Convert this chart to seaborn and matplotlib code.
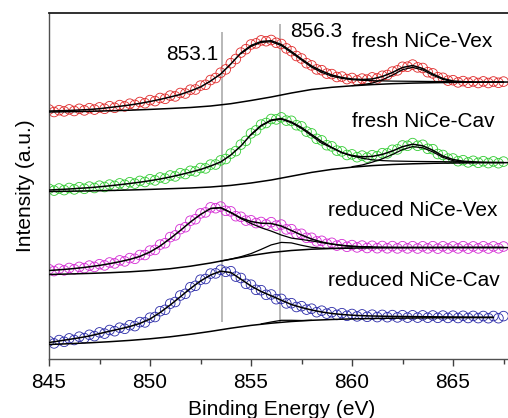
import numpy as np
import pandas as pd
import matplotlib
matplotlib.use("Agg")
import matplotlib.pyplot as plt
import seaborn as sns

# ---------------- data ----------------
E_data = np.arange(845.0, 867.51, 0.25)   # measured energy grid (0.25 eV step)
E_fit = np.arange(845.0, 867.51, 0.5)     # fit grid
E_base = np.arange(845.0, 868.01, 1.0)    # baseline grid

series_names = ["fresh NiCe-Vex", "fresh NiCe-Cav", "reduced NiCe-Vex", "reduced NiCe-Cav"]
series_colors = ["#e02a2a", "#33cc33", "#d42ad4", "#2a2aa8"]

# fresh NiCe-Vex
vex_f_data = [249.5, 247.0, 248.8, 247.6, 249.6, 248.0, 250.2, 248.6, 250.8, 249.4, 251.6, 250.2,
              252.8, 251.2, 253.9, 252.6, 255.3, 254.1, 257.0, 255.8, 258.9, 257.9, 261.0, 260.2,
              263.4, 262.6, 266.0, 265.5, 269.3, 269.5, 273.4, 274.2, 279.0, 281.0, 286.3, 289.6,
              295.8, 300.0, 306.4, 309.8, 314.5, 315.6, 318.6, 317.8, 319.0, 316.2, 315.0, 310.6,
              307.8, 303.0, 300.5, 295.8, 293.6, 289.6, 288.8, 285.4, 284.9, 282.0, 282.4, 279.9,
              281.0, 278.6, 280.4, 279.4, 281.6, 280.6, 283.2, 284.0, 287.4, 288.6, 292.2, 292.3,
              294.4, 291.6, 291.0, 286.8, 285.6, 281.8, 281.2, 278.4, 278.8, 276.6, 277.9, 276.2,
              277.6, 276.0, 277.6, 276.0, 277.5, 276.2, 277.4]
vex_f_fit = [248, 248.2, 248.5, 249, 249.5, 250.3, 251.5, 252.7, 254, 255.6,
             257.5, 259.6, 262, 264.5, 268, 272, 278, 285, 295, 306,
             313.5, 317.5, 318.3, 314.5, 307.5, 300, 293, 288, 284, 281.5,
             280, 279.5, 280, 282.5, 286.5, 291.5, 293.5, 290.5, 285, 280.5,
             278, 277.3, 277, 277, 277, 277]
vex_f_base = [247, 247.3, 247.7, 248.2, 248.8, 249.6, 250.5, 251.5, 253, 255.3, 258.5, 262,
              266, 269.5, 271.7, 273.2, 274.4, 275.3, 275.9, 276.3, 276.6, 276.8, 276.9, 277]
vex_f_main_E = np.arange(854.5, 866.01, 0.5)
vex_f_main = [305.2, 312.6, 316.6, 317.3, 313.4, 306.3, 299, 291.8, 286.6, 282.8, 280.6, 279.3,
              278.7, 278.3, 278.1, 277.9, 277.8, 277.7, 277.6, 277.5, 277.4, 277.3, 277.2, 277.1]
vex_f_sat_E = np.arange(860.0, 866.01, 0.5)
vex_f_sat = [273.4, 274.3, 275.9, 279.2, 283.8, 289.3, 291.7, 289, 283.8, 279.6, 277.3, 276.8, 276.8]

# fresh NiCe-Cav
cav_f_data = [170.2, 168.4, 170.5, 168.9, 171.0, 169.6, 171.8, 170.2, 172.4, 171.0, 173.3, 172.0,
              174.4, 173.1, 175.6, 174.2, 176.8, 175.4, 178.1, 177.0, 179.8, 178.6, 181.5, 180.4,
              183.5, 182.6, 185.8, 185.0, 188.2, 187.6, 191.0, 190.6, 194.4, 194.5, 198.6, 200.0,
              205.4, 207.9, 214.4, 218.2, 225.6, 228.6, 234.4, 236.0, 240.0, 239.6, 241.6, 238.4,
              238.2, 233.8, 232.6, 227.4, 225.6, 220.2, 218.6, 213.8, 212.6, 208.4, 207.6, 204.0,
              204.6, 201.8, 203.4, 201.4, 203.8, 202.8, 205.8, 205.6, 209.2, 209.6, 213.5, 213.2,
              215.9, 213.2, 214.2, 210.2, 209.8, 205.0, 204.0, 200.4, 200.5, 197.8, 198.8, 196.6,
              198.2, 196.2, 197.8, 195.9, 197.6, 195.8, 197.4]
cav_f_fit = [169, 169.5, 170, 170.7, 171.3, 172.2, 173.2, 174.3, 175.5, 176.8,
             178.3, 180, 182, 184.3, 186.8, 189.5, 193, 197, 204, 213,
             224.5, 233.5, 239, 240.5, 237, 231.5, 224.5, 217.5, 211.5, 206.5,
             203.5, 202.2, 202.6, 204.6, 208, 212.3, 214.8, 213.2, 208.8, 203,
             199.5, 197.8, 197.2, 196.8, 196.6, 196.5]
cav_f_base = [167.5, 167.8, 168.1, 168.5, 169, 169.6, 170.3, 171, 172, 173.6, 176, 179,
              182.8, 186.6, 189.6, 191.8, 193.4, 194.5, 195.2, 195.7, 196, 196.2, 196.3, 196.4]
cav_f_main_E = np.arange(855.0, 866.01, 0.5)
cav_f_main = [224, 233, 238.4, 239.8, 236.2, 230.5, 223.2, 215.8, 211.2, 206.2, 203.0, 200.8,
              199.2, 198.4, 198.0, 197.8, 197.6, 197.5, 197.4, 197.3, 197.2, 197.1, 197.0]
cav_f_sat_E = np.arange(860.0, 866.01, 0.5)
cav_f_sat = [192.3, 194, 196.8, 200.2, 204.5, 209.4, 212.4, 211.2, 207.1, 201.6, 198.3, 196.8, 196.4]

# reduced NiCe-Vex
vex_r_data = [89.8, 87.9, 90.2, 88.6, 91.0, 89.7, 92.1, 90.9, 93.4, 92.1, 94.8, 93.6,
              96.5, 95.6, 98.6, 97.6, 100.9, 100.2, 104.0, 104.0, 108.4, 109.1, 114.4, 115.8,
              121.9, 123.6, 129.9, 131.8, 138.3, 139.8, 145.6, 146.6, 151.6, 150.8, 152.4, 148.2,
              147.6, 142.8, 142.2, 138.4, 138.7, 135.9, 137.0, 134.6, 136.8, 133.4, 134.4, 129.6,
              129.8, 125.2, 125.2, 121.2, 121.2, 117.6, 118.2, 115.2, 116.2, 113.4, 114.8, 112.2,
              113.9, 111.6, 113.4, 111.0, 113.2, 110.8, 113.0, 110.7, 112.9, 110.6, 112.8, 110.6,
              112.8, 110.5, 112.7, 110.6, 112.8, 110.4, 112.7, 110.5, 112.6, 110.6, 112.8, 110.4,
              112.6, 110.6, 112.7, 110.5, 112.6, 110.7, 112.5]
vex_r_fit = [88.5, 89.2, 90, 91, 92.2, 93.6, 95.3, 97.3, 99.6, 102.6,
             107, 113, 120.5, 128.5, 137, 144.5, 150.5, 151.3, 146.5, 141,
             137.5, 135.8, 135.5, 133, 128.5, 124, 120, 117, 115, 113.6,
             112.7, 112.2, 112, 111.8, 111.7, 111.6, 111.6, 111.6, 111.6, 111.6,
             111.6, 111.6, 111.6, 111.6, 111.6, 111.6]
vex_r_base = [84.5, 85, 85.6, 86.3, 87.2, 88.5, 90.3, 92.8, 96, 99.8, 103.5, 106.5,
              108.5, 109.8, 110.5, 110.9, 111.1, 111.2, 111.3, 111.3, 111.4, 111.4, 111.4, 111.4]
vex_r_main_E = np.arange(853.0, 861.01, 0.5)
vex_r_main = [150.5, 151.3, 146.4, 140.4, 135.6, 131.3, 127.9, 124, 120.9, 119.5, 118.1, 116.4,
              114.9, 113.6, 112.7, 112.2, 112]
vex_r_sh_E = np.arange(853.5, 860.01, 0.5)
vex_r_sh = [97.9, 99.9, 102.3, 105.4, 109.6, 114.1, 116.6, 116.1, 113.7, 111.7, 110.8, 110.6, 110.7, 110.9]

# reduced NiCe-Cav
cav_r_data = [17.8, 15.6, 18.9, 17.2, 20.6, 19.0, 22.3, 20.9, 24.2, 22.9, 26.6, 25.4,
              29.0, 27.8, 31.3, 30.2, 33.8, 32.9, 36.9, 36.6, 41.3, 42.0, 47.8, 49.2,
              55.3, 57.0, 63.5, 65.2, 71.8, 73.2, 79.3, 80.0, 85.4, 85.6, 89.2, 87.2,
              87.8, 82.4, 81.0, 75.2, 74.3, 69.2, 68.8, 64.2, 64.5, 59.8, 60.1, 55.6,
              55.8, 52.0, 52.8, 49.4, 50.3, 46.8, 48.3, 45.4, 46.8, 44.1, 45.8, 43.2,
              45.0, 42.6, 44.6, 42.2, 44.3, 41.9, 44.1, 41.8, 43.9, 41.6, 43.8, 41.4,
              43.7, 41.4, 43.6, 41.3, 43.5, 41.2, 43.4, 41.1, 43.3, 41.0, 43.2, 41.0,
              43.1, 40.9, 43.0, 40.8, 43.0, 40.8, 42.9]
cav_r_fit = [16.5, 18, 19.6, 21.2, 23, 25.4, 27.8, 30, 32.5, 35.6,
             40, 46.5, 54, 62.2, 70.5, 78, 84, 87.8, 86.5, 79.8,
             73, 67.5, 63.2, 58.8, 54.5, 51.5, 49, 47, 45.5, 44.5,
             43.8, 43.3, 43, 42.8, 42.6, 42.5, 42.4, 42.3, 42.2, 42.1,
             42, 41.9, 41.8, 41.7, 41.7]
cav_r_base = [14.5, 15.3, 16.2, 17.3, 18.6, 20.2, 22.2, 24.7, 27.6, 30.8, 33.6, 35.8,
              37.5, 38.7, 39.5, 40.1, 40.5, 40.8, 41, 41.2, 41.3, 41.4, 41.5]
cav_r_sh_E = np.arange(855.5, 858.01, 0.5)
cav_r_sh = [35.1, 37.0, 38.7, 38.7, 38.5, 38.7]

# reference lines and labels
ref_pos = [853.55, 856.45]
ref_top = [327, 335]
ref_bottom = 37
ref_labels = ["853.1", "856.3"]

# ---------------- figure ----------------
sns.set_style("ticks")
plt.rcParams["font.family"] = ["Liberation Sans", "DejaVu Sans"]
plt.rcParams["text.color"] = "black"
plt.rcParams["axes.labelcolor"] = "black"
plt.rcParams["xtick.color"] = "black"

fig = plt.figure(figsize=(5.08, 4.18), dpi=100)
ax = fig.add_axes([49 / 508, 59 / 418, (513.6 - 49) / 508, 346 / 418])

datas = [vex_f_data, cav_f_data, vex_r_data, cav_r_data]
fits = [vex_f_fit, cav_f_fit, vex_r_fit, cav_r_fit]
bases = [vex_f_base, cav_f_base, vex_r_base, cav_r_base]

line_kw = dict(color="black", linewidth=1.1, sort=False, estimator=None, legend=False)

# grey reference lines first (behind)
for p, t in zip(ref_pos, ref_top):
    ax.vlines(p, ref_bottom, t, color="#b8b8b8", linewidth=1.4, zorder=1)

for name, col, d in zip(series_names, series_colors, datas):
    df = pd.DataFrame({"E": E_data[:len(d)], "I": d})
    sns.scatterplot(data=df, x="E", y="I", ax=ax, marker="o", s=48,
                    color=col, facecolor="none", edgecolor=col, linewidth=0.6,
                    legend=False, zorder=2)

for f, b in zip(fits, bases):
    sns.lineplot(x=E_fit[:len(f)], y=f, ax=ax, zorder=3, **line_kw)
    sns.lineplot(x=E_base[:len(b)], y=b, ax=ax, zorder=3, **line_kw)

comp_kw = dict(color="black", linewidth=0.9, sort=False, estimator=None, legend=False)
for xe, yc in [(vex_f_main_E, vex_f_main), (vex_f_sat_E, vex_f_sat),
               (cav_f_main_E, cav_f_main), (cav_f_sat_E, cav_f_sat),
               (vex_r_main_E, vex_r_main), (vex_r_sh_E, vex_r_sh),
               (cav_r_sh_E, cav_r_sh)]:
    sns.lineplot(x=xe, y=yc, ax=ax, zorder=3, **comp_kw)

fs = 15
ax.text(853.38, 299, ref_labels[0], ha="right", va="baseline", fontsize=fs, color="black")
ax.text(856.92, 322.3, ref_labels[1], ha="left", va="baseline", fontsize=fs, color="black")

label_pos = [(860.0, 312.3), (860.0, 231.7), (858.81, 143), (858.81, 73.3)]
for name, (lx, ly) in zip(series_names, label_pos):
    ax.text(lx, ly, name, ha="left", va="baseline", fontsize=fs, color="black")

ax.set_xlim(845, 868)
ax.set_ylim(0, 346)
ax.set_xticks([845, 850, 855, 860, 865])
ax.set_xticks([847.5, 852.5, 857.5, 862.5, 867.5], minor=True)
ax.set_yticks([])
ax.tick_params(axis="x", which="major", direction="out", length=5, width=1,
               color="#404040", labelcolor="black", labelsize=fs, pad=5)
ax.tick_params(axis="x", which="minor", direction="out", length=3.5, width=1, color="#404040")
ax.set_xlabel("Binding Energy (eV)", fontsize=fs, labelpad=6, color="black")
ax.set_ylabel("Intensity (a.u.)", fontsize=fs, labelpad=10, color="black")

for s in ["left", "bottom"]:
    ax.spines[s].set_color("#505050")
    ax.spines[s].set_linewidth(1.0)
ax.spines["top"].set_color("#202020")
ax.spines["top"].set_linewidth(1.3)
ax.spines["right"].set_visible(False)

fig.savefig("out.png", dpi=100)
